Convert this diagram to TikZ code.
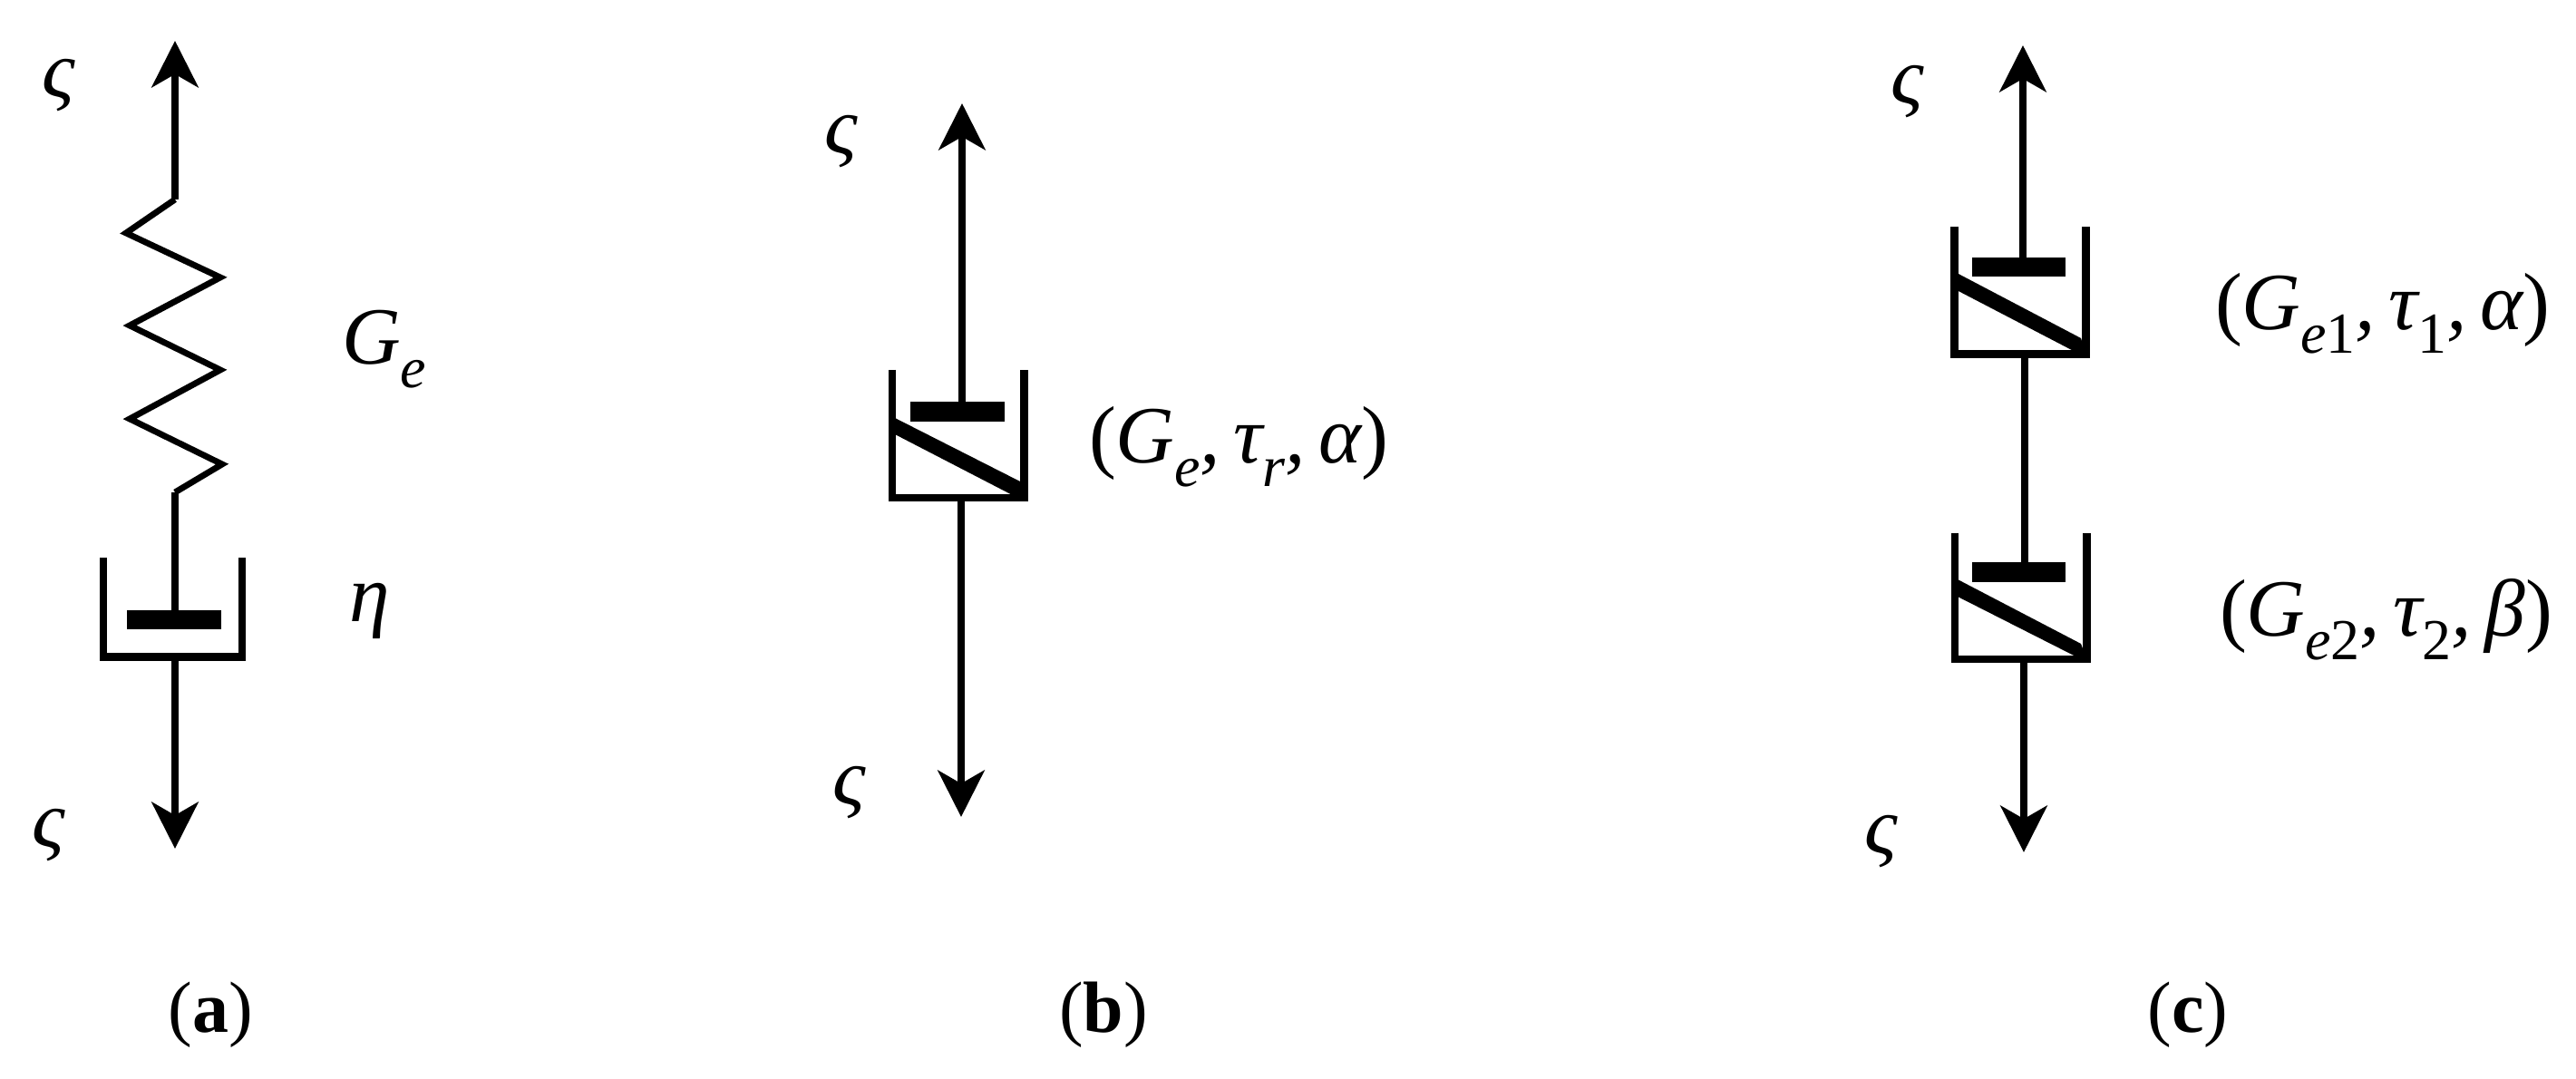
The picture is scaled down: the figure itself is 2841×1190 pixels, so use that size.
\documentclass[tikz,border=0pt]{standalone}
\usepackage{fontspec}
\setmainfont{Liberation Serif}
\usetikzlibrary{arrows.meta}
\newcommand{\subi}[1]{\raisebox{-0.28em}{\fontsize{8}{9}\selectfont #1}}
\newcommand{\subu}[1]{\raisebox{-0.28em}{\fontsize{8}{9}\selectfont\upshape #1}}
\newcommand{\gap}{\hspace{0.16em}}
\tikzset{
  lab/.style={anchor=base west,inner sep=0pt,outer sep=0pt,font=\fontsize{11.2}{13}\selectfont\itshape},
  captxt/.style={anchor=center,inner sep=0pt,outer sep=0pt,font=\fontsize{10}{12}\selectfont},
  rod/.style={line width=1.1pt,line cap=butt},
  load/.style={rod,-{Stealth[length=6.4pt,width=6.4pt,inset=1.8pt]}},
  cupline/.style={line width=1.1pt,line join=miter,line cap=butt},
  plate/.style={fill=black,draw=none},
  spring/.style={line width=0.85pt,line join=miter,miter limit=8}
}
\begin{document}
\begin{tikzpicture}[x=0.125pt,y=-0.125pt]
\useasboundingbox (0,0) rectangle (2841,1190);
% (a)
\coordinate (atip) at (193,45);
\coordinate (as1) at (193,220);
\coordinate (as2) at (193,543);
\coordinate (ap) at (193,673);
\coordinate (af) at (193,728);
\coordinate (abot) at (193,936);
\draw[load] (as1) -- (atip);
\draw[spring] (as1) -- (139,257) -- (243,306) -- (143,359) -- (243,408) -- (143,462) -- (245,512) -- (as2);
\draw[rod] (as2) -- (ap);
\fill[plate] (140,673) rectangle (244,694);
\draw[cupline] (114,615) -- (114,724.5) -- (267,724.5) -- (267,615);
\draw[load] (af) -- (abot);
\node[lab] (a1) at (47,108) {ς};
\node[lab] (a2) at (36,935) {ς};
\node[lab] (a3) at (377,402) {G\subi{e}};
\node[lab] (a4) at (385,686) {η};
\node[captxt] (acap) at (232,1119) {(\textbf{a})};
% (b)
\coordinate (btip) at (1061,114);
\coordinate (bp) at (1061,443);
\coordinate (bf) at (1060,553);
\coordinate (bbot) at (1060,901);
\draw[load] (bp) -- (btip);
\fill[plate] (1004,443) rectangle (1108,465);
\draw[cupline] (984,408) -- (984,549) -- (1129.5,549) -- (1129.5,408);
\fill (985,460) -- (1125,531) -- (1130,553) -- (985,478) -- cycle;
\draw[load] (bf) -- (bbot);
\node[lab] (b1) at (909,170) {ς};
\node[lab] (b2) at (918,888) {ς};
\node[lab] (b3) at (1201,511) {{\upshape(}G\subi{e},\gap τ\subi{r},\gap α{\upshape)}};
\node[captxt] (bcap) at (1217,1119) {(\textbf{b})};
% (c)
\coordinate (ctip) at (2231,50);
\coordinate (cp1) at (2231,284);
\coordinate (cf1) at (2233,395);
\coordinate (cp2) at (2233,620);
\coordinate (cf2) at (2232,731);
\coordinate (cbot) at (2232,940);
\draw[load] (cp1) -- (ctip);
\fill[plate] (2175,284) rectangle (2278,305);
\draw[cupline] (2155.5,250) -- (2155.5,390.5) -- (2300.5,390.5) -- (2300.5,250);
\fill (2156,300) -- (2295,373) -- (2302,395) -- (2156,319) -- cycle;
\draw[rod] (cf1) -- (cp2);
\fill[plate] (2175,620) rectangle (2278,642);
\draw[cupline] (2156,588) -- (2156,727) -- (2301.5,727) -- (2301.5,588);
\fill (2157,638) -- (2295,710) -- (2303,731) -- (2157,657) -- cycle;
\draw[load] (cf2) -- (cbot);
\node[lab] (c1) at (2085,115) {ς};
\node[lab] (c2) at (2056,942) {ς};
\node[lab] (c3) at (2443,364) {{\upshape(}G\subi{e}\subu{1},\gap τ\subu{1},\gap α{\upshape)}};
\node[lab] (c4) at (2448,702) {{\upshape(}G\subi{e}\subu{2},\gap τ\subu{2},\gap β{\upshape)}};
\node[captxt] (ccap) at (2413,1119) {(\textbf{c})};
\end{tikzpicture}
\end{document}
